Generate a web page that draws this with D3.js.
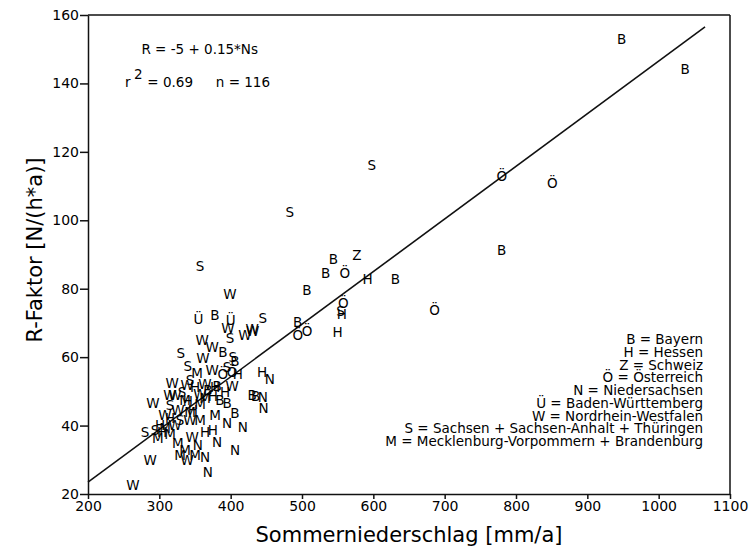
<!DOCTYPE html>
<html>
<head>
<meta charset="utf-8">
<script src="https://cdn.jsdelivr.net/npm/d3@7"></script>
<style>
	body { margin: 0; background: #fff; }
	svg text { font-family: "DejaVu Sans", "Liberation Sans", Arial, sans-serif; fill: #000; }
	.axis path, .axis line { stroke: #111; stroke-width: 1.5; }
	.axis text { font-size: 14px; fill: #000; }
</style>
</head>
<body>
<div id="graph"></div>
<script>
// Bundesland code, Sommerniederschlag [mm/a], R-Faktor [N/(h*a)]
const codes = [
	'B','B','Ö','Ö','B','S','S','S','B','Z','B','Ö','H','B','B','W','Ö','S','H','H',
	'B','Ö','Ö','Ö','S','W','Ü','B','Ü','W','S','W','W','W','W','B','S','S','B','W',
	'S','M','W','S','Ö','Ö','H','N','W','W','S','H','B','W','B','B','N','N','W','S',
	'H','M','H','M','B','W','M','M','B','W','H','S','S','S','H','M','W','N','N','H',
	'W','N','M','N','M','W','W','N','N','N','W','M','H','W','M','H','W','B','H','S',
	'W','M','W','M','H','B','W','H','M','H','M'
];
const niederschlag = [
	948,1037,780,851,780,598,483,357,544,577,533,560,592,631,507,399,558,554,556,550,
	494,494,507,686,445,431,355,378,400,396,399,430,420,360,374,389,330,403,406,361,
	340,353,374,395,389,402,444,455,318,339,332,350,381,402,430,435,445,446,291,315,
	340,364,375,357,395,326,343,378,406,308,315,329,280,294,304,315,322,395,417,364,
	346,381,326,354,336,339,287,364,406,368,263,329,301,343,357,378,357,368,392,343,
	322,336,315,308,347,385,364,410,298,375,350
];
const rFaktor = [
	153,144.2,113,111,91.2,116,102.3,86.5,88.6,89.7,84.5,84.5,82.7,82.7,79.5,78.3,75.7,73.3,72.7,67.2,
	70.1,66.3,67.5,73.6,71.3,67.5,71,72.2,70.7,68.6,65.7,68.1,66.3,65.1,62.8,61.6,61.3,60.1,58.7,59.8,
	57.5,55.2,56.3,57.2,54.9,55.5,55.7,53.7,52.5,51.9,49.9,51.1,51.6,51.4,49,48.7,48.4,45.2,46.7,46.1,
	47,48.1,48.7,46.4,46.7,44.6,44,43.1,43.7,43.1,42.3,41.7,38.2,38.8,38.2,37.6,40.2,40.8,39.6,38.2,
	36.7,35.2,34.9,34.4,32.9,30,30,30.8,32.9,26.4,22.6,31.4,40.2,41.7,41.7,51.1,49.3,50.5,49.9,53.4,
	49,47.5,49,39.3,44.6,47.5,52,54.9,36.4,38.8,31.4
];

const xTicks = [200, 300, 400, 500, 600, 700, 800, 900, 1000, 1100];
const yTicks = [20, 40, 60, 80, 100, 120, 140, 160];

// regression line as drawn (R = -5 + 0.15*Ns), end points
const lineNs = [200, 1065];
const lineR  = [23.5, 156.5];

const legendLines = [
	'B = Bayern',
	'H = Hessen',
	'Z = Schweiz',
	'Ö = Österreich',
	'N = Niedersachsen',
	'Ü = Baden-Württemberg',
	'W = Nordrhein-Westfalen',
	'S = Sachsen + Sachsen-Anhalt + Thüringen',
	'M = Mecklenburg-Vorpommern + Brandenburg'
];

let margin = { top: 15, right: 22, bottom: 53, left: 88 };
let width  = 752 - margin.left - margin.right;
let height = 547 - margin.top  - margin.bottom;

let x = d3.scaleLinear().domain([200, 1100]).range([0, width]);
let y = d3.scaleLinear().domain([20, 160]).range([height, 0]);

let svg = d3.select('#graph')
	.append('svg')
		.attr('width', 752)
		.attr('height', 547)
	.append('g')
		.attr('transform', 'translate(' + margin.left + ',' + margin.top + ')');

svg.append('g')
	.attr('class', 'x axis')
	.attr('transform', 'translate(0,' + height + ')')
	.call(d3.axisBottom(x).tickValues(xTicks).tickFormat(d3.format('d'))
		.tickSize(5).tickSizeOuter(0).tickPadding(2));

svg.append('g')
	.attr('class', 'y axis')
	.call(d3.axisLeft(y).tickValues(yTicks).tickFormat(d3.format('d'))
		.tickSize(8).tickSizeOuter(0).tickPadding(1));

// box top and right
svg.append('line')
	.attr('x1', 0).attr('x2', width).attr('y1', 0).attr('y2', 0)
	.attr('stroke', '#111').attr('stroke-width', 1.5);
svg.append('line')
	.attr('x1', width).attr('x2', width).attr('y1', 0).attr('y2', height)
	.attr('stroke', '#111').attr('stroke-width', 1.5);

// regression line
let line = d3.line()
	.x((d, i) => x(lineNs[i]))
	.y((d) => y(d));

svg.append('path')
	.attr('d', line(lineR))
	.attr('fill', 'none')
	.attr('stroke', '#111')
	.attr('stroke-width', 1.6);

// letter markers
svg.append('g')
	.selectAll('text')
	.data(codes)
	.join('text')
		.attr('x', (d, i) => x(niederschlag[i]))
		.attr('y', (d, i) => y(rFaktor[i]))
		.attr('dy', '0.36em')
		.attr('text-anchor', 'middle')
		.style('font-size', '13.5px')
		.text((d) => d);

// equation
svg.append('text')
	.attr('x', 170).attr('y', 39)
	.attr('text-anchor', 'end')
	.style('font-size', '13.5px')
	.text('R = -5 + 0.15*Ns');

svg.append('text')
	.attr('x', 37).attr('y', 72)
	.style('font-size', '13.5px')
	.text('r');
svg.append('text')
	.attr('x', 46).attr('y', 64)
	.style('font-size', '13.5px')
	.text('2');
svg.append('text')
	.attr('x', 105).attr('y', 72)
	.attr('text-anchor', 'end')
	.style('font-size', '13.5px')
	.text('= 0.69');
svg.append('text')
	.attr('x', 182).attr('y', 72)
	.attr('text-anchor', 'end')
	.style('font-size', '13.5px')
	.text('n = 116');

// legend
svg.append('g')
	.selectAll('text')
	.data(legendLines)
	.join('text')
		.attr('x', 615)
		.attr('y', (d, i) => 329 + i * 12.75)
		.attr('text-anchor', 'end')
		.style('font-size', '13.5px')
		.text((d) => d);

// axis titles
svg.append('text')
	.attr('x', width / 2)
	.attr('y', height + 48)
	.attr('text-anchor', 'middle')
	.style('font-size', '21px')
	.text('Sommerniederschlag [mm/a]');

svg.append('text')
	.attr('transform', 'rotate(-90)')
	.attr('x', -235)
	.attr('y', -46)
	.attr('text-anchor', 'middle')
	.style('font-size', '21px')
	.text('R-Faktor [N/(h*a)]');
</script>
</body>
</html>
